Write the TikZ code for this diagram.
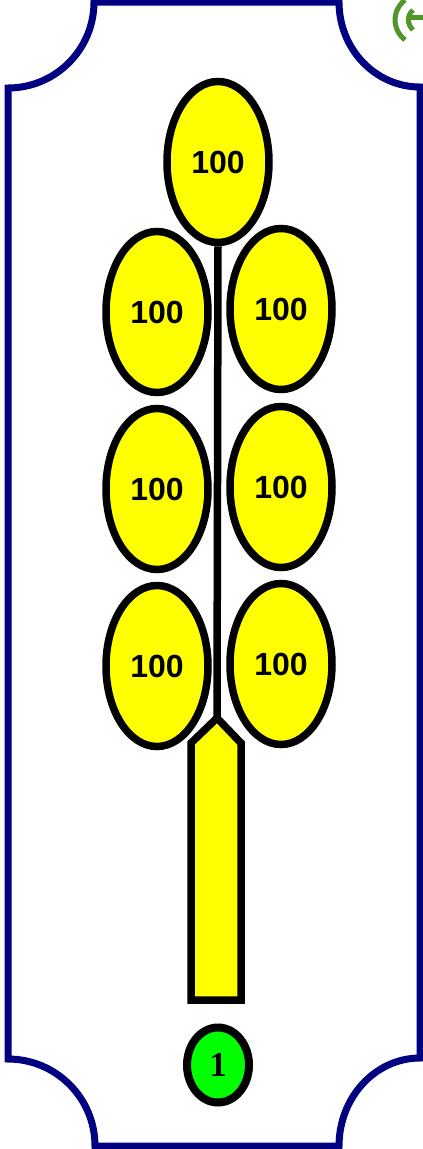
\documentclass[tikz,border=0pt]{standalone}
\usepackage{fontspec}
\setmainfont{Liberation Sans}
\newfontfamily\serifb{Liberation Serif}
\usetikzlibrary{shapes.geometric}
\definecolor{navyframe}{RGB}{0,0,128}
\definecolor{grainyellow}{RGB}{255,255,0}
\definecolor{brightgreen}{RGB}{0,255,0}
\definecolor{logogreen}{RGB}{80,150,40}
\tikzset{
  frame/.style={draw=navyframe,line width=7pt},
  grain/.style={ellipse,draw=black,fill=grainyellow,line width=7.5pt,minimum width=102pt,minimum height=161pt,inner sep=0pt,font=\fontsize{32}{32}\selectfont\bfseries},
  stalk/.style={draw=black,line width=7.5pt},
  counter/.style={ellipse,draw=black,fill=brightgreen,line width=8pt,minimum width=62pt,minimum height=75pt,inner sep=0pt,font=\serifb\fontsize{35}{35}\selectfont\bfseries},
  logo/.style={draw=logogreen,line width=5pt}
}
\begin{document}
\begin{tikzpicture}[x=1pt,y=-1pt]
\useasboundingbox (0,0) rectangle (423,1149);
% frame
\draw[frame] (8,88) arc[start angle=90,end angle=0,radius=86] -- (339,2)
  arc[start angle=180,end angle=90,x radius=81,y radius=85] -- (420,1058)
  arc[start angle=270,end angle=180,x radius=81,y radius=88] -- (95,1146)
  arc[start angle=0,end angle=-90,radius=87] -- cycle;
% partial logo
\draw[logo] (405,0) arc[start angle=-127,end angle=-233,radius=25];
\draw[logo] (413,10) arc[start angle=-130,end angle=-230,radius=13];
\draw[logo] (411,17) -- (423,17);
% stem
\coordinate (tip) at (217,718);
% grains
\node[grain] (g0) at (218,162) {100};
\node[grain] (gl1) at (157,312) {100};
\node[grain] (gr1) at (281,309) {100};
\node[grain] (gl2) at (157,489) {100};
\node[grain] (gr2) at (281,487) {100};
\node[grain] (gl3) at (157,666) {100};
\node[grain] (gr3) at (281,664) {100};
\draw[stalk] (g0.south) -- (tip);
% stalk base
\draw[stalk,fill=grainyellow,line join=miter] (191,1000) -- (191,743) -- (tip) -- (241,743) -- (241,1000) -- cycle;
% counter
\node[counter] (c) at (218,1065) {1};
\end{tikzpicture}
\end{document}
